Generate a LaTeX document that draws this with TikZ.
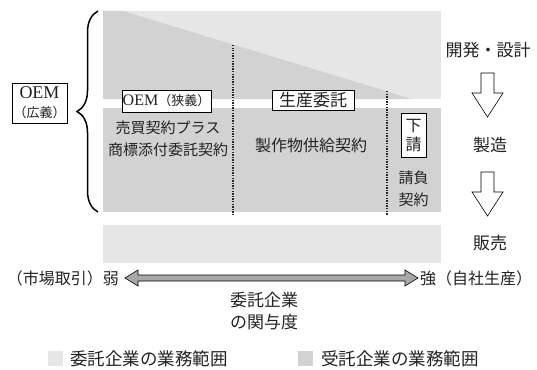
\documentclass[tikz,border=0pt]{standalone}
\usepackage{fontspec}
\setmainfont{Liberation Serif}
\newfontfamily\cjk{Noto Sans CJK JP}
\usetikzlibrary{decorations.pathreplacing}
\definecolor{lightg}{HTML}{E6E6E6}
\definecolor{darkg}{HTML}{D2D2D2}
\definecolor{arrg}{HTML}{A8A8A8}
\definecolor{txt}{HTML}{222222}
\begin{document}
\begin{tikzpicture}[x=1pt,y=-1pt,
  lbl/.style={inner sep=0pt, text=txt, font=\cjk\fontsize{15}{19}\selectfont},
  rlbl/.style={inner sep=0pt, text=txt, font=\cjk\fontsize{17}{20}\selectfont},
  tagbox/.style={draw=black, fill=white, line width=0.8pt, text=txt, inner sep=0pt},
  dotline/.style={line width=1.3pt, dash pattern=on 1.3pt off 1.3pt, black!85},
  hollow/.style={draw=black, fill=white, line width=0.6pt},
]
\useasboundingbox (0,0) rectangle (537,369);
% areas
\fill[lightg] (103,11) rectangle (441,99);
\fill[darkg] (103,11) -- (123,11) -- (412,99) -- (103,99) -- cycle;
\fill[darkg] (103,108) rectangle (441,212);
\fill[lightg] (103,225) rectangle (441,263);
% dotted separators
\coordinate (d1t) at (233,45);
\coordinate (d1b) at (233,215);
\coordinate (d2t) at (387,91);
\coordinate (d2b) at (387,215);
\draw[dotline] (d1t) -- (d1b);
\draw[dotline] (d2t) -- (d2b);
% brace
\coordinate (bb) at (98,212);
\coordinate (bt) at (98,11);
\draw[line width=1.5pt, decorate, decoration={brace, amplitude=21pt}] (bb) -- (bt);
% OEM wide box
\node[tagbox, minimum width=55pt, minimum height=40pt, align=center,
      font=\fontsize{18}{19}\selectfont] (oemw) at (39.5,103)
  {OEM\\{\cjk\fontsize{13}{15}\selectfont （広義）}};
% tags on the white stripe
\node[tagbox, minimum width=89pt, minimum height=22pt] (oemn) at (166.5,101)
  {{\fontsize{16}{18}\selectfont OEM}{\cjk\fontsize{13}{15}\selectfont （狭義）}};
\node[tagbox, minimum width=82pt, minimum height=20pt, font=\cjk\fontsize{17}{19}\selectfont] (seisan) at (313,100.5) {生産委託};
\node[tagbox, minimum width=25pt, minimum height=44pt, align=center, font=\cjk\fontsize{16}{19}\selectfont] (shita) at (413.5,135) {下\\請};
% texts in areas
\node[lbl] (t1) at (168,128) {売買契約プラス};
\node[lbl] (t2) at (168,150) {商標添付委託契約};
\node[lbl, font=\cjk\fontsize{16}{19}\selectfont] (t3) at (311,145) {製作物供給契約};
\node[lbl, align=center, font=\cjk\fontsize{15}{22}\selectfont] (t4) at (413.5,189) {請負\\契約};
% right process labels
\node[rlbl] (p1) at (488,50) {開発・設計};
\node[rlbl] (p2) at (490,145) {製造};
\node[rlbl] (p3) at (490,243) {販売};
% hollow arrows
\draw[hollow] (481,73) -- (494,73) -- (494,93) -- (503,93) -- (487.5,117) -- (472,93) -- (481,93) -- cycle;
\draw[hollow] (481,172) -- (494,172) -- (494,192) -- (503,192) -- (487.5,216) -- (472,192) -- (481,192) -- cycle;
% double arrow
\node[lbl, anchor=east, font=\cjk\fontsize{16}{19}\selectfont] (weak) at (119,278) {（市場取引）弱};
\node[lbl, anchor=west, font=\cjk\fontsize{16}{19}\selectfont] (strong) at (420,278) {強（自社生産）};
\draw[fill=arrg, draw=black, line width=0.6pt]
  (125,278) -- (138,270) -- (138,275) -- (405,275) -- (405,270) -- (418,278)
  -- (405,286) -- (405,281) -- (138,281) -- (138,286) -- cycle;
\node[rlbl, align=center, font=\cjk\fontsize{17}{22}\selectfont] (deg) at (264,311) {委託企業\\の関与度};
% legend
\fill[lightg] (48,351) rectangle (63,366);
\node[lbl, anchor=west, font=\cjk\fontsize{17.5}{20}\selectfont] (leg1) at (70,358.5) {委託企業の業務範囲};
\fill[darkg] (298,351) rectangle (313,366);
\node[lbl, anchor=west, font=\cjk\fontsize{17.5}{20}\selectfont] (leg2) at (321,358.5) {受託企業の業務範囲};
\end{tikzpicture}
\end{document}
